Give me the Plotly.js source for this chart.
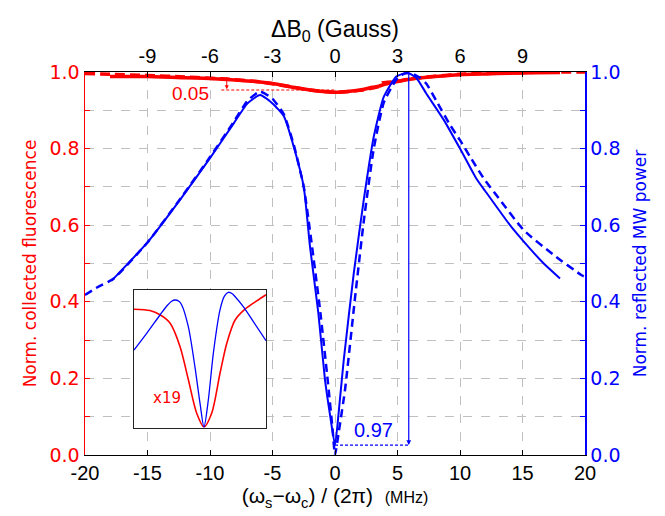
<!DOCTYPE html>
<html><head><meta charset="utf-8">
<script src="https://cdn.plot.ly/plotly-3.0.1.min.js"></script>
<style>html,body{margin:0;padding:0;background:#fff}#c{width:665px;height:516px}</style>
</head><body><div id="c"></div>
<script>
// Main data (x in MHz)
var blueSolidX = [-17.9,-17.7,-15,-12.4,-10,-8.1,-7,-6,-5,-4.1,-3.3,-2.5,-2.0,-1.33,-0.8,-0.4,0,0.35,0.7,1.5,2.3,3.1,3.9,4.9,5.8,6.5,7.3,8.7,10,11.3,12,14,15,16.7,18];
var blueSolidY = [0.455,0.461,0.555,0.666,0.775,0.866,0.918,0.94,0.918,0.885,0.805,0.70,0.544,0.37,0.196,0.105,0.026,0.13,0.248,0.474,0.666,0.831,0.935,0.988,0.998,0.985,0.944,0.875,0.80,0.722,0.69,0.60,0.561,0.50,0.461];
var blueDashX = [-20,-19,-17.7,-15,-12.4,-10,-8.1,-7,-6,-5,-4.1,-3.3,-2.5,-1.9,-1.2,-0.6,-0.2,0,0.3,0.8,1.6,2.3,3.1,3.9,4.9,5.5,6.1,6.8,7.3,8.1,9.2,10,10.8,11.9,13.2,15.1,17.5,19.7,20];
var blueDashY = [0.418,0.438,0.461,0.555,0.668,0.778,0.87,0.925,0.949,0.93,0.89,0.81,0.70,0.56,0.38,0.2,0.07,0.0,0.06,0.17,0.41,0.61,0.80,0.92,0.98,0.995,0.997,0.985,0.97,0.925,0.862,0.822,0.779,0.722,0.666,0.587,0.522,0.47,0.465];
var redSolidX = [-18,-15,-12,-10,-8,-6,-5,-4,-3,-2,-1,0,1,2,3,3.5,4,5,6,8,10,12,14,16,18];
var redSolidY = [0.988,0.988,0.985,0.983,0.979,0.974,0.970,0.964,0.958,0.953,0.949,0.947,0.949,0.953,0.960,0.963,0.968,0.975,0.981,0.988,0.993,0.995,0.997,0.998,0.999];
var redDashX = [-20,-18,-15,-12,-10,-8,-6,-4,-2,0,2,3,3.5,3.8,4.2,5,6,8,10,14,18,20];
var redDashY = [0.996,0.994,0.991,0.987,0.984,0.980,0.974,0.964,0.953,0.947,0.952,0.958,0.962,0.972,0.973,0.976,0.982,0.989,0.994,0.998,1.0,1.0];
// Inset data
var insetBlueX = [-10,-8.08,-6.06,-5.0,-4.3,-3.79,-3.2,-2.77,-1.77,-0.76,0,0.6,1.26,2.02,3.03,3.7,4.29,4.9,5.30,6.56,8.08,10];
var insetBlueY = [0.564,0.685,0.818,0.885,0.918,0.927,0.918,0.891,0.733,0.44,0.178,0.005,0.201,0.54,0.855,0.955,0.983,0.972,0.952,0.879,0.770,0.632];
var insetRedX = [-10,-7.58,-6.06,-4.55,-3.03,-1.77,-0.5,0.6,1.77,3.03,4.04,5.30,6.82,8.59,10];
var insetRedY = [0.86,0.85,0.82,0.76,0.59,0.35,0.105,0.005,0.105,0.395,0.61,0.78,0.86,0.92,0.965];
// Ticks
var xTicks = [-20,-15,-10,-5,0,5,10,15,20];
var xTickText = ['-20','-15','-10','-5','0','5','10','15','20'];
var gaussTicks = [-9,-6,-3,0,3,6,9];
var gaussTickText = ['-9','-6','-3','0','3','6','9'];
var yTicks = [0,0.1,0.2,0.3,0.4,0.5,0.6,0.7,0.8,0.9,1.0];
var yTickText = ['0.0','','0.2','','0.4','','0.6','','0.8','','1.0'];

var RED = '#ff0000', BLUE = '#0000ff', GRID = '#c0c0c0';
var traces = [
  {x: redDashX, y: redDashY, mode:'lines', line:{color:RED, width:3.5, dash:'10px,5px', shape:'spline', smoothing:0.6}, xaxis:'x', yaxis:'y'},
  {x: redSolidX, y: redSolidY, mode:'lines', line:{color:RED, width:3.5, shape:'spline', smoothing:0.6}, xaxis:'x', yaxis:'y'},
  {x: blueDashX, y: blueDashY, mode:'lines', line:{color:BLUE, width:2.5, dash:'8px,5px', shape:'spline', smoothing:0.5}, xaxis:'x', yaxis:'y'},
  {x: blueSolidX, y: blueSolidY, mode:'lines', line:{color:BLUE, width:2, shape:'spline', smoothing:0.5}, xaxis:'x', yaxis:'y'},
  {x: insetRedX, y: insetRedY, mode:'lines', line:{color:RED, width:1.6, shape:'spline', smoothing:0.8}, xaxis:'x3', yaxis:'y3'},
  {x: insetBlueX, y: insetBlueY, mode:'lines', line:{color:BLUE, width:1.3, shape:'spline', smoothing:0.8}, xaxis:'x3', yaxis:'y3'},
  {x: [0], y: [0.5], mode:'markers', marker:{opacity:0}, xaxis:'x2', yaxis:'y2', hoverinfo:'skip'}
];
var fY = 'DejaVu Sans, Verdana, sans-serif';
var fX = 'Liberation Sans, Arial, sans-serif';
var layout = {
  width:665, height:516, showlegend:false,
  paper_bgcolor:'#fff', plot_bgcolor:'#fff',
  margin:{l:85, r:80, t:72, b:61},
  xaxis:{range:[-20,20], tickvals:xTicks, ticktext:xTickText, ticks:'inside', ticklen:5, tickcolor:'#000',
    showline:true, linecolor:'#000', linewidth:1.2, showgrid:true, gridcolor:GRID, griddash:'dash', gridwidth:1,
    zeroline:false, tickfont:{family:fX, size:20, color:'#000'},
    title:{text:'(ω<sub>s</sub>−ω<sub>c</sub>) / (2π)  <span style="font-size:16px">(MHz)</span>', font:{family:fX, size:21, color:'#000'}, standoff:2}},
  xaxis2:{range:[-12,12], overlaying:'x', side:'top', tickvals:gaussTicks, ticktext:gaussTickText, ticks:'inside', ticklen:5, tickcolor:'#000',
    showline:true, linecolor:'#000', linewidth:1.2, showgrid:false, zeroline:false, anchor:'y',
    tickfont:{family:fX, size:20, color:'#000'},
    title:{text:'ΔB<sub>0</sub> (Gauss)', font:{family:fX, size:23, color:'#000'}, standoff:0}},
  yaxis:{range:[0,1], tickvals:yTicks, ticktext:yTickText, ticks:'inside', ticklen:5, tickcolor:RED,
    showline:true, linecolor:RED, linewidth:1.5, showgrid:true, gridcolor:GRID, griddash:'dash', gridwidth:1, zeroline:false,
    tickfont:{family:fY, size:19, color:RED},
    title:{text:'Norm. collected fluorescence', font:{family:fY, size:17, color:RED}, standoff:8}},
  yaxis2:{range:[0,1], overlaying:'y', side:'right', anchor:'x', tickvals:yTicks, ticktext:yTickText, ticks:'inside', ticklen:5, tickcolor:BLUE,
    showline:true, linecolor:BLUE, linewidth:1.5, showgrid:false, zeroline:false,
    tickfont:{family:fY, size:19, color:BLUE},
    title:{text:'Norm. reflected MW power', font:{family:fY, size:17, color:BLUE}, standoff:14}},
  xaxis3:{domain:[0.098,0.362], anchor:'y3', range:[-10,10], showticklabels:false, ticks:'', showgrid:false, zeroline:false,
    showline:true, mirror:true, linecolor:'#222', linewidth:1.3},
  yaxis3:{domain:[0.0713,0.431], anchor:'x3', range:[0,1], showticklabels:false, ticks:'', showgrid:false, zeroline:false,
    showline:true, mirror:true, linecolor:'#222', linewidth:1.3},
  shapes:[
    {type:'rect', xref:'x3 domain', yref:'y3 domain', x0:0, x1:1, y0:0, y1:1, fillcolor:'#fff', line:{width:0}, layer:'below'},
    {type:'line', xref:'x', yref:'y', x0:-9.1, x1:0.1, y0:0.953, y1:0.953, line:{color:RED, width:1, dash:'3px,2px'}},
    {type:'line', xref:'x', yref:'y', x0:0, x1:5.9, y0:0.026, y1:0.026, line:{color:BLUE, width:1.2, dash:'3px,2px'}}
  ],
  annotations:[
    {x:5.9, y:0.026, ax:5.9, ay:1.0, xref:'x', yref:'y', axref:'x', ayref:'y', text:'', showarrow:true, arrowcolor:BLUE, arrowwidth:1.2, arrowhead:2, arrowsize:0.8},
    {x:-8.66, y:0.955, ax:-8.66, ay:0.99, xref:'x', yref:'y', axref:'x', ayref:'y', text:'', showarrow:true, arrowcolor:RED, arrowwidth:1, arrowhead:2, arrowsize:0.8},
    {x:-11.6, y:0.945, xref:'x', yref:'y', text:'0.05', showarrow:false, font:{family:fX, size:19, color:RED}},
    {x:3.04, y:0.065, xref:'x', yref:'y', text:'0.97', showarrow:false, font:{family:fX, size:20, color:BLUE}},
    {x:-5, y:0.216, xref:'x3', yref:'y3', text:'x19', showarrow:false, font:{family:fY, size:15, color:RED}}
  ]
};
Plotly.newPlot('c', traces, layout, {displayModeBar:false, staticPlot:true});
</script></body></html>
